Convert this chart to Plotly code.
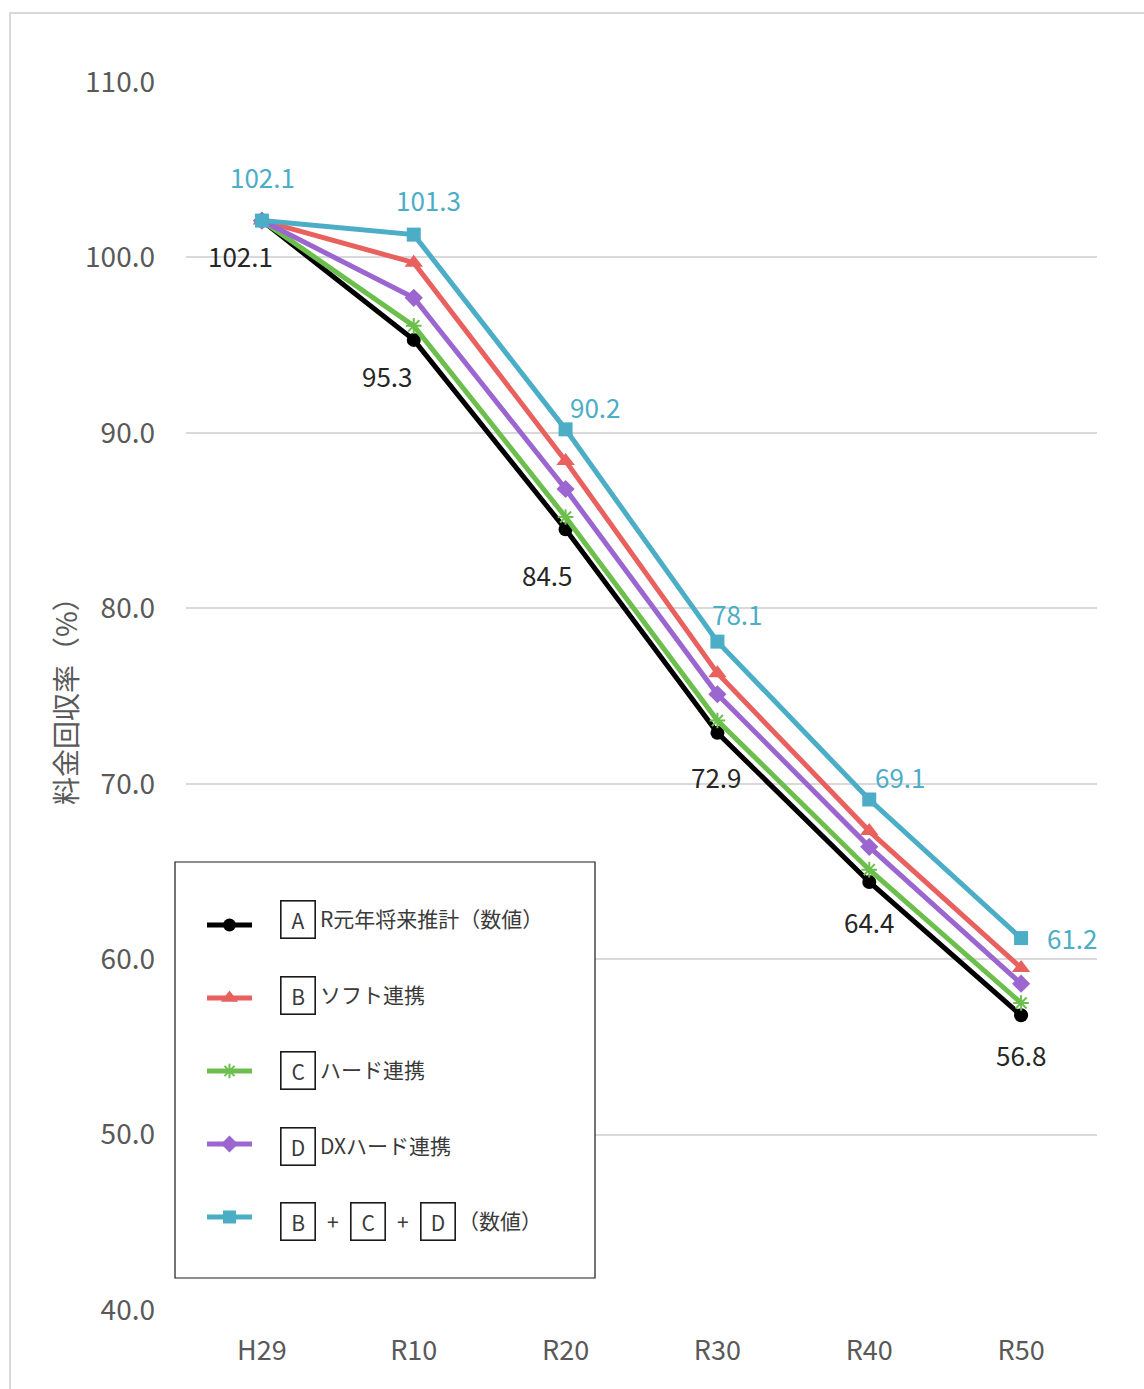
import plotly.graph_objects as go

# ---- data ----
years = ["H29", "R10", "R20", "R30", "R40", "R50"]
series_a = [102.1, 95.3, 84.5, 72.9, 64.4, 56.8]      # R元年将来推計（数値）
series_b = [102.1, 99.7, 88.4, 76.3, 67.3, 59.5]      # ソフト連携
series_c = [102.1, 96.1, 85.2, 73.6, 65.1, 57.5]      # ハード連携
series_d = [102.1, 97.7, 86.8, 75.1, 66.4, 58.6]      # DXハード連携
series_bcd = [102.1, 101.3, 90.2, 78.1, 69.1, 61.2]   # B+C+D（数値）
y_ticks = [40, 50, 60, 70, 80, 90, 100, 110]
y_title = "料金回収率（%）"
legend_letters = ["A", "B", "C", "D"]
legend_names = ["R元年将来推計（数値）", "ソフト連携", "ハード連携", "DXハード連携"]
legend_last_suffix = "（数値）"

# ---- styling ----
W, H = 1144, 1389
FONT = "Noto Sans CJK JP"
GRAY_TXT = "#595959"
LEG_TXT = "#3a3a3a"
styles = [
    dict(color="#000000", symbol="circle", size=14),
    dict(color="#E8615F", symbol="triangle-up", size=16),
    dict(color="#6CBF4C", symbol="asterisk-open", size=13),
    dict(color="#9B66CF", symbol="diamond", size=14),
    dict(color="#4BADC6", symbol="square", size=14),
]
all_series = [series_a, series_b, series_c, series_d, series_bcd]

# plot area in pixels
PL, PR, PT, PB = 186, 1097, 82, 1310


def px_x(p):
    return p / W


def px_y(p):
    return (H - p) / H


fig = go.Figure()

for vals, st in zip(all_series, styles):
    mk = dict(symbol=st["symbol"], size=st["size"], color=st["color"])
    if st["symbol"].endswith("open"):
        mk["line"] = dict(color=st["color"], width=2)
    fig.add_trace(go.Scatter(
        x=years, y=vals, mode="lines+markers",
        line=dict(color=st["color"], width=5),
        marker=mk, xaxis="x", yaxis="y", showlegend=False,
        cliponaxis=False,
    ))

# value labels (offsets in px from each point)
a_shift = [(-21, -35), (-26, -36), (-18, -45), (-1, -44), (0, -40), (0, -39)]
bcd_shift = [(1, 44), (15, 35), (30, 23), (20, 28), (31, 23), (51, 1)]
annotations = []
for yr, v, (dx, dy) in zip(years, series_a, a_shift):
    annotations.append(dict(x=yr, y=v, xref="x", yref="y", text=f"{v:.1f}",
                            showarrow=False, xshift=dx, yshift=dy,
                            xanchor="center", yanchor="middle",
                            font=dict(family=FONT, size=26, color="#262626")))
for yr, v, (dx, dy) in zip(years, series_bcd, bcd_shift):
    annotations.append(dict(x=yr, y=v, xref="x", yref="y", text=f"{v:.1f}",
                            showarrow=False, xshift=dx, yshift=dy,
                            xanchor="center", yanchor="middle",
                            font=dict(family=FONT, size=26, color=styles[4]["color"])))

# y-axis title
annotations.append(dict(x=px_x(65), y=px_y(694), xref="paper", yref="paper",
                        text=y_title, textangle=-90, showarrow=False,
                        xanchor="center", yanchor="middle",
                        font=dict(family=FONT, size=28, color=GRAY_TXT)))

# ---- custom legend drawn on a pixel-space overlay subplot ----
LB = dict(x0=175, x1=595, y0=862, y1=1278)
line_rows = [925, 998, 1071, 1144, 1217]
box_rows = [919, 995, 1070, 1146, 1221]

for st, ly in zip(styles, line_rows):
    mk = dict(symbol=st["symbol"], size=st["size"] - 1, color=st["color"])
    if st["symbol"].endswith("open"):
        mk["line"] = dict(color=st["color"], width=2)
    fig.add_trace(go.Scatter(
        x=[207, 252], y=[ly, ly], mode="lines", line=dict(color=st["color"], width=5),
        xaxis="x2", yaxis="y2", showlegend=False, hoverinfo="skip"))
    fig.add_trace(go.Scatter(
        x=[229.5], y=[ly], mode="markers", marker=mk,
        xaxis="x2", yaxis="y2", showlegend=False, hoverinfo="skip"))


def boxed(letter, cx, cy):
    return dict(x=cx, y=cy, xref="x2", yref="y2", text=letter, showarrow=False,
                xanchor="center", yanchor="middle",
                width=33, height=36, borderwidth=1.6, bordercolor="#1a1a1a", borderpad=0,
                bgcolor="white", font=dict(family=FONT, size=21, color=LEG_TXT))


for letter, name, by in zip(legend_letters, legend_names, box_rows):
    annotations.append(boxed(letter, 297.5, by))
    annotations.append(dict(x=318, y=by - 1, xref="x2", yref="y2", text=name,
                            xanchor="left", yanchor="middle", showarrow=False,
                            font=dict(family=FONT, size=21, color=LEG_TXT)))

# last row: B + C + D（数値）
last_y = box_rows[4]
for letter, cx in zip(["B", "C", "D"], [297.5, 367.5, 437.5]):
    annotations.append(boxed(letter, cx, last_y))
for cx in [333, 402.5]:
    annotations.append(dict(x=cx, y=last_y, xref="x2", yref="y2", text="+",
                            xanchor="center", yanchor="middle",
                            showarrow=False, font=dict(family=FONT, size=21, color=LEG_TXT)))
annotations.append(dict(x=456, y=last_y - 1, xref="x2", yref="y2", text=legend_last_suffix,
                        xanchor="left", yanchor="middle", showarrow=False,
                        font=dict(family=FONT, size=21, color=LEG_TXT)))

shapes = [
    # outer chart frame
    dict(type="rect", xref="paper", yref="paper", x0=px_x(10), x1=1.02,
         y0=-0.02, y1=px_y(13), line=dict(color="#D9D9D9", width=2), layer="below"),
    # legend box
    dict(type="rect", xref="x2", yref="y2", x0=LB["x0"], x1=LB["x1"], y0=LB["y0"], y1=LB["y1"],
         line=dict(color="#1a1a1a", width=1.2), fillcolor="white", layer="below"),
]

fig.update_layout(
    width=W, height=H,
    margin=dict(l=0, r=0, t=0, b=0, autoexpand=False),
    paper_bgcolor="white", plot_bgcolor="rgba(0,0,0,0)",
    font=dict(family=FONT, color=GRAY_TXT),
    xaxis=dict(domain=[px_x(PL), px_x(PR)], type="category", range=[-0.5, 5.5],
               showgrid=False, showline=False, zeroline=False, ticks="",
               ticklabelstandoff=22, automargin=False,
               tickfont=dict(family=FONT, size=27, color=GRAY_TXT), anchor="y"),
    yaxis=dict(domain=[px_y(PB), px_y(PT)], range=[40, 110], tickvals=y_ticks,
               tickformat=".1f", showgrid=True, gridcolor="#D9D9D9", gridwidth=2,
               showline=False, zeroline=False, ticks="", ticklabelstandoff=30,
               automargin=False,
               tickfont=dict(family=FONT, size=28, color=GRAY_TXT), anchor="x"),
    xaxis2=dict(domain=[0, 1], range=[0, W], visible=False, anchor="y2", automargin=False),
    yaxis2=dict(domain=[0, 1], range=[H, 0], visible=False, anchor="x2", automargin=False),
    annotations=annotations,
    shapes=shapes,
    showlegend=False,
)

fig.write_html("out.html")
